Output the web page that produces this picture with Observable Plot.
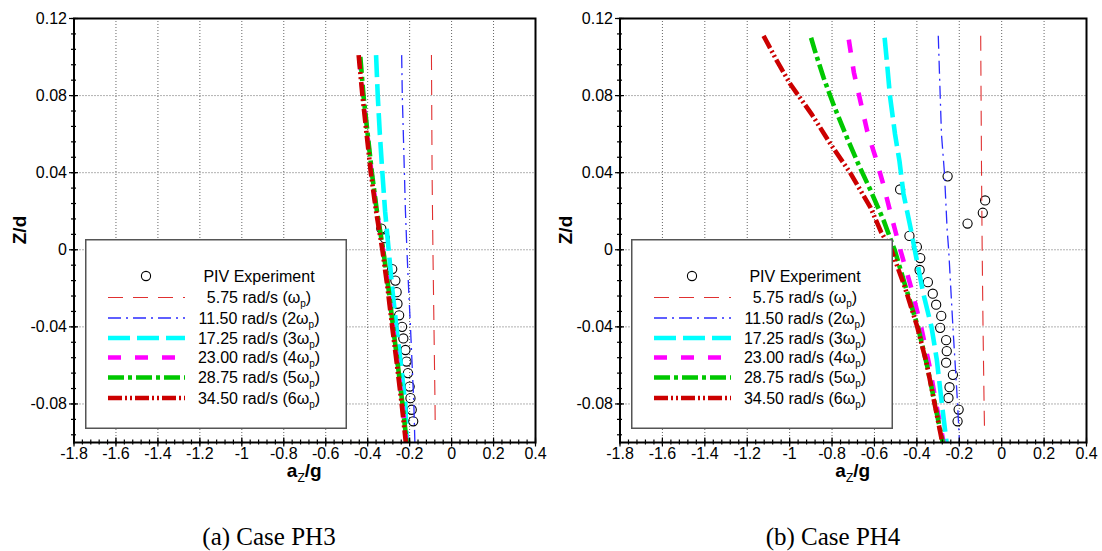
<!DOCTYPE html>
<html>
<head>
<meta charset="utf-8">
<script src="https://cdn.jsdelivr.net/npm/d3@7"></script>
<script src="https://cdn.jsdelivr.net/npm/@observablehq/plot@0.6"></script>
<style>
  body { margin: 0; background: #fff; }
  #wrap { position: relative; width: 1102px; height: 551px; overflow: hidden; background: #fff;
          font-family: Arial, "Liberation Sans", sans-serif; }
  .panel { position: absolute; top: 0; }
  .legend { position: absolute; }
  .caption { position: absolute; width: 300px; text-align: center; line-height: 25px;
             font-family: "Times New Roman", "Liberation Serif", serif; font-size: 25px; color: #000; }
</style>
</head>
<body>
<div id="wrap"></div>
<script>
// ---------------- data ----------------
// each point: [Z/d, a_Z/g]
const rates = ["5.75", "11.50", "17.25", "23.00", "28.75", "34.50"];
const multiples = ["", "2", "3", "4", "5", "6"];
const pivLabel = "PIV Experiment";
const captions = ["(a) Case PH3", "(b) Case PH4"];

const xMajor = [-1.8, -1.6, -1.4, -1.2, -1, -0.8, -0.6, -0.4, -0.2, 0, 0.2, 0.4];
const yMajor = [-0.08, -0.04, 0, 0.04, 0.08, 0.12];

// Case PH3
const ph3_piv = [[0.011,-0.335],[0.006,-0.318],[-0.010,-0.283],[-0.016,-0.268],[-0.022,-0.262],[-0.028,-0.258],
  [-0.034,-0.250],[-0.040,-0.236],[-0.046,-0.230],[-0.052,-0.220],[-0.058,-0.215],[-0.064,-0.208],
  [-0.071,-0.200],[-0.077,-0.196],[-0.083,-0.190],[-0.089,-0.183]];
const ph3_s1 = [[0.101,-0.096],[0.04,-0.093],[0,-0.089],[-0.04,-0.084],[-0.08,-0.079],[-0.093,-0.078]];
const ph3_s2 = [[0.101,-0.238],[0.08,-0.235],[0.06,-0.230],[0.04,-0.225],[0.02,-0.220],[0,-0.213],
  [-0.02,-0.205],[-0.04,-0.196],[-0.06,-0.188],[-0.08,-0.180],[-0.1,-0.175]];
const ph3_s3 = [[0.101,-0.360],[0.08,-0.352],[0.06,-0.342],[0.04,-0.330],[0.02,-0.317],[0,-0.300],
  [-0.02,-0.283],[-0.04,-0.263],[-0.06,-0.241],[-0.08,-0.221],[-0.1,-0.213]];
const ph3_s4 = [[0.100,-0.440],[0.08,-0.422],[0.06,-0.402],[0.04,-0.382],[0.02,-0.357],[0,-0.327],
  [-0.02,-0.302],[-0.04,-0.280],[-0.06,-0.257],[-0.08,-0.235],[-0.1,-0.215]];
const ph3_s5 = [[0.100,-0.435],[0.08,-0.420],[0.06,-0.400],[0.04,-0.380],[0.02,-0.356],[0,-0.326],
  [-0.02,-0.301],[-0.04,-0.279],[-0.06,-0.256],[-0.08,-0.234],[-0.1,-0.214]];
const ph3_s6 = [[0.101,-0.443],[0.08,-0.425],[0.06,-0.405],[0.04,-0.385],[0.02,-0.360],[0,-0.330],
  [-0.02,-0.305],[-0.04,-0.283],[-0.06,-0.260],[-0.08,-0.238],[-0.1,-0.218]];

// Case PH4
const ph4_piv = [[0.0313,-0.479],[0.0381,-0.255],[0.0256,-0.078],[0.0192,-0.089],[0.0136,-0.161],
  [0.0072,-0.435],[0.0015,-0.400],[-0.0043,-0.384],[-0.0105,-0.387],[-0.0168,-0.348],[-0.0228,-0.325],
  [-0.0285,-0.309],[-0.0343,-0.285],[-0.0405,-0.290],[-0.0469,-0.262],[-0.0526,-0.259],[-0.0586,-0.262],
  [-0.0649,-0.230],[-0.0713,-0.246],[-0.0769,-0.251],[-0.0829,-0.203],[-0.0890,-0.208]];
const ph4_s1 = [[0.111,-0.099],[0.04,-0.095],[0,-0.092],[-0.04,-0.088],[-0.08,-0.083],[-0.093,-0.081]];
const ph4_s2 = [[0.111,-0.299],[0.08,-0.290],[0.06,-0.284],[0.04,-0.270],[0.01,-0.257],[0,-0.250],
  [-0.04,-0.230],[-0.08,-0.208],[-0.1,-0.199]];
const ph4_s3 = [[0.110,-0.552],[0.096,-0.540],[0.08,-0.527],[0.06,-0.503],[0.046,-0.482],[0.029,-0.463],
  [0.012,-0.431],[0,-0.410],[-0.023,-0.369],[-0.04,-0.331],[-0.057,-0.306],[-0.08,-0.282],[-0.1,-0.260]];
const ph4_s4 = [[0.109,-0.721],[0.092,-0.697],[0.077,-0.666],[0.0615,-0.634],[0.048,-0.595],[0.033,-0.556],
  [0.019,-0.524],[0,-0.478],[-0.02,-0.426],[-0.04,-0.380],[-0.06,-0.341],[-0.08,-0.309],[-0.1,-0.274]];
const ph4_s5 = [[0.110,-0.899],[0.1026,-0.879],[0.089,-0.839],[0.075,-0.792],[0.058,-0.729],[0.044,-0.674],
  [0.031,-0.619],[0.015,-0.556],[0.007,-0.529],[0,-0.505],[-0.02,-0.451],[-0.04,-0.395],[-0.06,-0.352],
  [-0.08,-0.315],[-0.1,-0.278]];
const ph4_s6 = [[0.111,-1.123],[0.098,-1.060],[0.086,-0.997],[0.07,-0.894],[0.055,-0.808],[0.04,-0.715],
  [0.022,-0.619],[0.009,-0.568],[0,-0.520],[-0.02,-0.455],[-0.04,-0.398],[-0.06,-0.352],[-0.08,-0.316],
  [-0.1,-0.280]];

// ---------------- styles ----------------
const lineStyles = [
  {color: "#e03030", width: 1.1, dash: "15,10"},
  {color: "#2b2bff", width: 1.3, dash: "13,5,2,5"},
  {color: "#00ffff", width: 4.6, dash: "22,7"},
  {color: "#ff00ff", width: 4.6, dash: "13,14"},
  {color: "#00c800", width: 4.6, dash: "16,4,4,4"},
  {color: "#cc0000", width: 4.6, dash: "14,3,2,3,2,3"}
];

const xMinor = d3.range(0, 56).map(i => +(-1.8 + i * 0.04).toFixed(3));
const yMinor = d3.range(0, 28).map(i => +(-0.096 + i * 0.008).toFixed(3)).filter(v => v <= 0.12);

const W = 551, H = 490, MT = 18, MB = 48;
const FONT = "Arial, 'Liberation Sans', sans-serif";
const wrap = document.getElementById("wrap");

function makePanel(left, ml, mr, series, piv, caption, captionCx) {
  const marks = [
    Plot.gridX(xMajor.slice(1, -1), {stroke: "#333", strokeOpacity: 0.75, strokeDasharray: "1,2", strokeWidth: 1}),
    Plot.gridY(yMajor.slice(0, -1), {stroke: "#333", strokeOpacity: 0.75, strokeDasharray: "1,2", strokeWidth: 1}),
    Plot.dot(piv, {x: d => d[1], y: d => d[0], r: 4.6, stroke: "#000", strokeWidth: 1.1, fill: "none"}),
    ...series.map((s, i) => Plot.line(s, {
      x: d => d[1], y: d => d[0], stroke: lineStyles[i].color,
      strokeWidth: lineStyles[i].width, strokeDasharray: lineStyles[i].dash,
      strokeLinecap: "butt", strokeLinejoin: "miter", clip: true
    })),
    Plot.frame({stroke: "#000", strokeWidth: 2}),
    Plot.axisX(xMinor, {anchor: "bottom", tickSize: 5, dy: -2.5, tickFormat: () => "", label: null, strokeWidth: 1.2}),
    Plot.axisX(xMajor, {anchor: "bottom", tickSize: 9, dy: -4.5, tickFormat: () => "", label: null, strokeWidth: 1.2}),
    Plot.axisX(xMajor, {anchor: "bottom", tickSize: 0, tickPadding: 5, tickFormat: d => String(d), label: null,
      fontSize: 16, fontFamily: FONT, fill: "#000"}),
    Plot.axisY(yMinor, {anchor: "left", tickSize: 5, dx: 2.5, tickFormat: () => "", label: null, strokeWidth: 1.2}),
    Plot.axisY(yMajor, {anchor: "left", tickSize: 9, dx: 4.5, tickFormat: () => "", label: null, strokeWidth: 1.2}),
    Plot.axisY(yMajor, {anchor: "left", tickSize: 0, tickPadding: 7, tickFormat: d => String(d), label: null,
      fontSize: 16, fontFamily: FONT, fill: "#000"})
  ];
  const p = Plot.plot({
    width: W, height: H,
    marginLeft: ml, marginRight: mr, marginTop: MT, marginBottom: MB,
    x: {domain: [-1.8, 0.4]},
    y: {domain: [-0.1, 0.12]},
    style: {fontSize: "16px", fontFamily: FONT, color: "#000", background: "transparent"},
    marks
  });
  p.classList.add("panel");
  p.style.left = left + "px";
  wrap.appendChild(p);

  const svg = d3.select(p);
  const innerW = W - ml - mr, innerH = H - MT - MB;
  // axis titles
  svg.append("text")
    .attr("transform", `translate(${ml - 54},${MT + innerH / 2}) rotate(-90)`)
    .attr("text-anchor", "middle").attr("dy", "0.35em")
    .attr("font-family", FONT)
    .attr("font-size", 19).attr("font-weight", "bold").attr("fill", "#000")
    .text("Z/d");
  const xt = svg.append("text")
    .attr("x", ml + innerW / 2).attr("y", 477)
    .attr("text-anchor", "middle")
    .attr("font-family", FONT)
    .attr("font-size", 19).attr("font-weight", "bold").attr("fill", "#000");
  xt.append("tspan").text("a");
  xt.append("tspan").attr("font-size", 12).attr("font-weight", "normal").attr("dy", 5).text("Z");
  xt.append("tspan").attr("dy", -5).text("/g");

  // legend
  const lg = d3.select(wrap).append("svg").attr("class", "legend")
    .style("left", (left + ml + 11) + "px").style("top", "239px")
    .attr("width", 262).attr("height", 190);
  lg.append("rect").attr("x", 0.75).attr("y", 0.75).attr("width", 260.5).attr("height", 188.5)
    .attr("fill", "#fff").attr("stroke", "#555").attr("stroke-width", 1.5);
  const rowY = [37, 58.5, 79, 99, 118.5, 138.5, 159];
  lg.append("circle").attr("cx", 61).attr("cy", rowY[0]).attr("r", 4.6)
    .attr("fill", "none").attr("stroke", "#000").attr("stroke-width", 1.1);
  const textX = 174;
  lg.append("text").attr("x", textX).attr("y", rowY[0]).attr("dy", "0.35em")
    .attr("text-anchor", "middle").attr("font-size", 16).attr("fill", "#000")
    .attr("font-family", FONT).text(pivLabel);
  rates.forEach((r, i) => {
    const y = rowY[i + 1];
    const st = lineStyles[i];
    lg.append("line").attr("x1", 23).attr("x2", 100).attr("y1", y).attr("y2", y)
      .attr("stroke", st.color).attr("stroke-width", st.width).attr("stroke-dasharray", st.dash);
    const t = lg.append("text").attr("x", textX).attr("y", y).attr("dy", "0.35em")
      .attr("text-anchor", "middle").attr("font-size", 16).attr("fill", "#000")
      .attr("font-family", FONT);
    t.append("tspan").text(`${r} rad/s (${multiples[i]}ω`);
    t.append("tspan").attr("font-size", 10).attr("dy", 4).text("p");
    t.append("tspan").attr("dy", -4).text(")");
  });

  // caption
  const c = document.createElement("div");
  c.className = "caption";
  c.textContent = caption;
  c.style.left = (captionCx - 150) + "px";
  c.style.top = "524px";
  wrap.appendChild(c);
}

makePanel(0, 73.5, 16, [ph3_s1, ph3_s2, ph3_s3, ph3_s4, ph3_s5, ph3_s6], ph3_piv, captions[0], 269);
makePanel(551, 68.5, 16, [ph4_s1, ph4_s2, ph4_s3, ph4_s4, ph4_s5, ph4_s6], ph4_piv, captions[1], 833);
</script>
</body>
</html>
